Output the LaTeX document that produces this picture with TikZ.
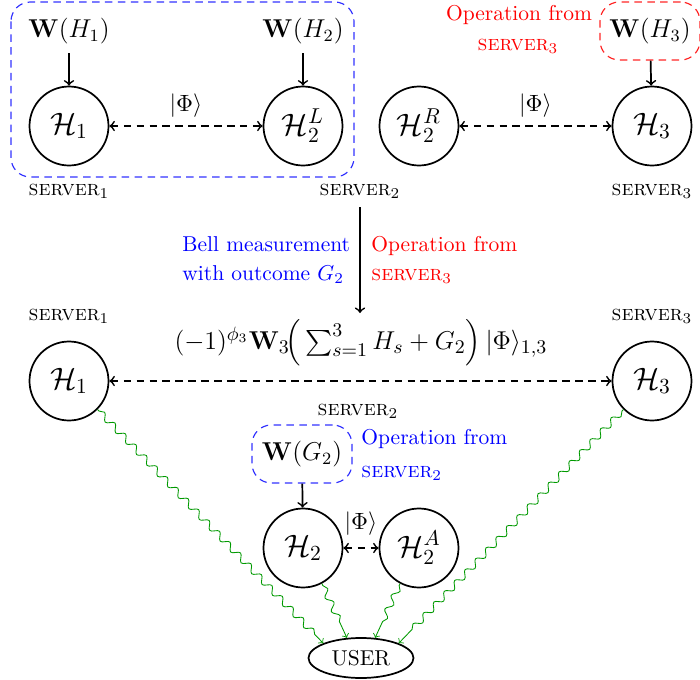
\documentclass[tikz,border=0pt]{standalone}
\usepackage{amsmath}
\usetikzlibrary{decorations.pathmorphing,shapes.geometric}
\begin{document}
\begin{tikzpicture}[x=0.4651pt,y=-0.4651pt,
  qnode/.style={circle,draw,thick,minimum size=79*0.4651pt,inner sep=0pt,font=\Large},
  wlab/.style={font=\large,minimum height=44*0.4651pt,inner sep=0pt},
  wbox/.style={font=\large,draw,line width=0.55pt,rounded corners=9pt,dash pattern=on 3.5pt off 2.5pt,minimum width=100*0.4651pt,minimum height=58*0.4651pt,inner sep=0pt},
  lab/.style={inner sep=0pt,anchor=base},
  flow/.style={->,thick},
  ent/.style={<->,thick,dash pattern=on 3.5pt off 2.5pt},
  philab/.style={above=3.5pt,inner sep=0pt,font=\fontsize{11}{13}\selectfont},
  send/.style={->,draw=green!60!black,decorate,decoration={snake,amplitude=1.5pt,segment length=7pt,pre length=1pt,post length=2mm}},
]
\useasboundingbox (0,0) rectangle (700,680);

% top row
\draw[blue!80,line width=0.55pt,dash pattern=on 3.5pt off 2.5pt,rounded corners=9pt] (11,2) rectangle (354,177);
\node[wlab] (w1) at (69,31) {$\mathbf{W}(H_1)$};
\node[wlab] (w2) at (303,31) {$\mathbf{W}(H_2)$};
\node[wbox,draw=red!85] (w3) at (650,31) {$\mathbf{W}(H_3)$};
\node[qnode] (h1) at (69,126) {$\mathcal{H}_1$};
\node[qnode] (h2l) at (303,126) {$\mathcal{H}_2^L$};
\node[qnode] (h2r) at (419,126) {$\mathcal{H}_2^R$};
\node[qnode] (h3) at (652,126) {$\mathcal{H}_3$};
\draw[flow] (w1) -- (h1);
\draw[flow] (w2) -- (h2l);
\draw[flow] (w3) -- (h3);
\draw[ent] (h1) -- node[philab] {$|\Phi\rangle$} (h2l);
\draw[ent] (h2r) -- node[philab] {$|\Phi\rangle$} (h3);
\node[lab,text=red] (op3) at (519,20) {Operation from};
\node[lab,text=red] (op3s) at (518,50) {\textsc{server}$_3$};
\node[lab] (s1) at (69,195) {\textsc{server}$_1$};
\node[lab] (s2) at (360,195) {\textsc{server}$_2$};
\node[lab] (s3) at (652,195) {\textsc{server}$_3$};

% middle
\coordinate (a1) at (360,207);
\coordinate (a2) at (360,313);
\draw[flow] (a1) -- (a2);
\node[lab,anchor=base west,text=blue] (bm1) at (182,251) {Bell measurement};
\node[lab,anchor=base west,text=blue] (bm2) at (182,280) {with outcome $G_2$};
\node[lab,anchor=base west,text=red] (or1) at (371,251) {Operation from};
\node[lab,anchor=base west,text=red] (or2) at (371,280) {\textsc{server}$_3$};

% lower row
\node[lab] (t1) at (69,320) {\textsc{server}$_1$};
\node[lab] (t3) at (652,320) {\textsc{server}$_3$};
\node[font=\fontsize{13}{16}\selectfont] (f) at (361,343) {$(-1)^{\phi_3}\mathbf{W}_3\!\Big(\sum_{s=1}^3 H_s+G_2\Big)\,|\Phi\rangle_{1,3}$};
\node[qnode] (l1) at (69,381) {$\mathcal{H}_1$};
\node[qnode] (l3) at (652,381) {$\mathcal{H}_3$};
\draw[ent] (l1) -- (l3);
\node[lab] (t2) at (358,415) {\textsc{server}$_2$};
\node[wbox,draw=blue!80] (wg) at (302,454) {$\mathbf{W}(G_2)$};
\node[lab,anchor=base west,text=blue] (ob1) at (361,444) {Operation from};
\node[lab,anchor=base west,text=blue] (ob2) at (361,477) {\textsc{server}$_2$};
\node[qnode] (h2) at (303,548) {$\mathcal{H}_2$};
\node[qnode] (h2a) at (419,548) {$\mathcal{H}_2^A$};
\draw[flow] (wg) -- (h2);
\draw[ent] (h2) -- node[philab,above=2pt] {$|\Phi\rangle$} (h2a);
\node[ellipse,draw,thick,minimum width=105*0.4651pt,minimum height=40*0.4651pt,inner sep=0pt] (user) at (361,658) {USER};
\draw[send] (l1.south east) -- (user.north west);
\draw[send] (h2.-62) -- (user.125);
\draw[send] (h2a.-118) -- (user.55);
\draw[send] (l3.south west) -- (user.north east);
\end{tikzpicture}
\end{document}
